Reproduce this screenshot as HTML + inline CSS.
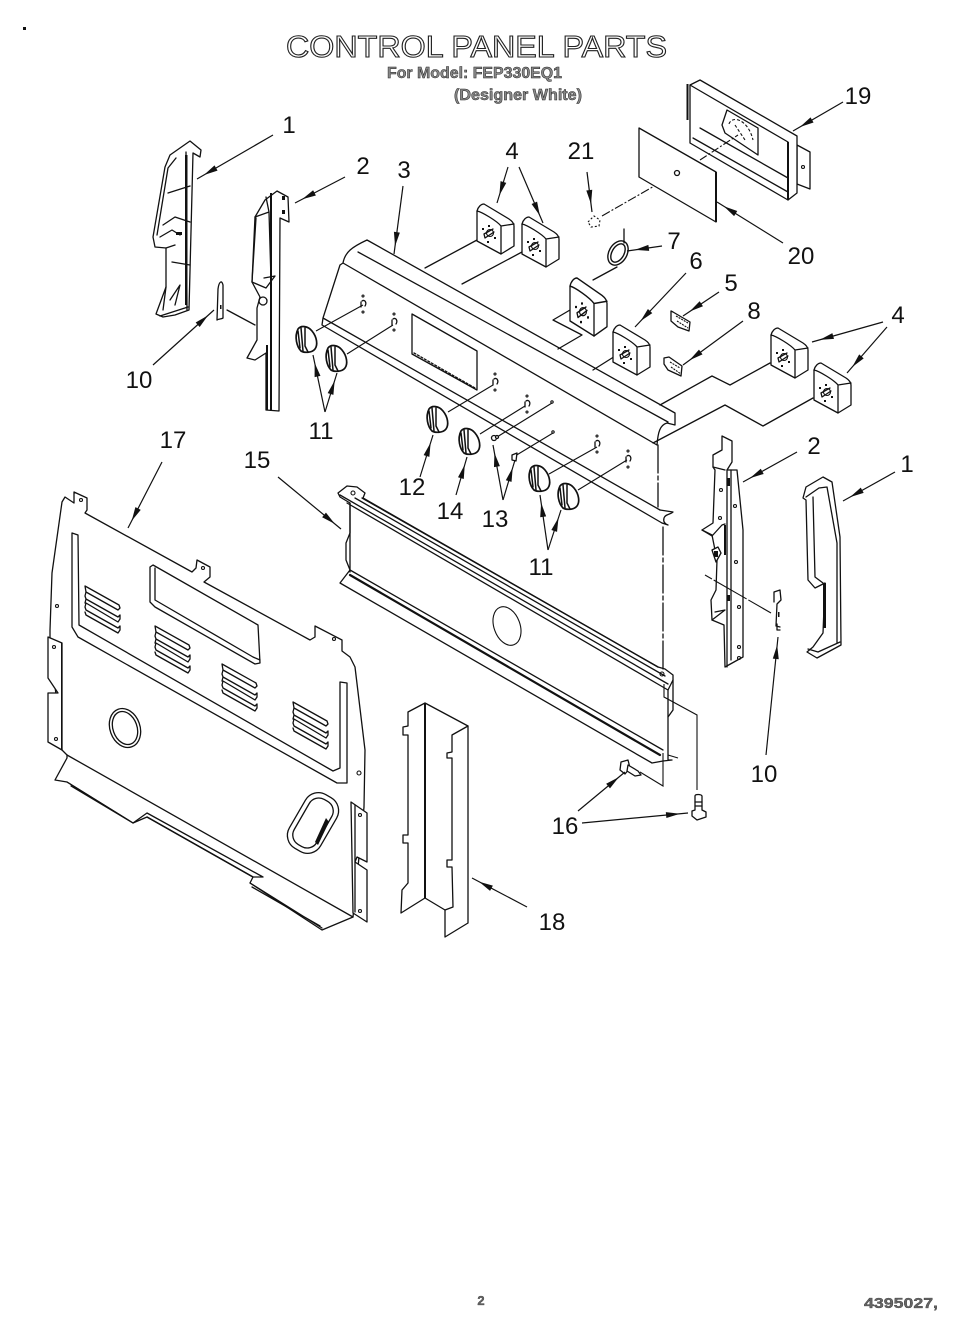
<!DOCTYPE html>
<html><head><meta charset="utf-8"><title>Control Panel Parts</title>
<style>html,body{margin:0;padding:0;background:#fff}svg{display:block}
text{font-family:"Liberation Sans",sans-serif;fill:#111}
.n{font-size:24px;text-anchor:middle}
.l{fill:none;stroke:#111;stroke-width:1.3;stroke-linejoin:round;stroke-linecap:round}
.w{fill:#fff;stroke:#111;stroke-width:1.3;stroke-linejoin:round}
.a{fill:none;stroke:#111;stroke-width:1.2;marker-end:url(#ah)}
.t{fill:none;stroke:#111;stroke-width:1.1}
.d{fill:#111;stroke:none}
</style></head><body>
<svg width="965" height="1333" viewBox="0 0 965 1333" xmlns="http://www.w3.org/2000/svg">
<defs>
<marker id="ah" markerUnits="userSpaceOnUse" markerWidth="16" markerHeight="8" refX="22" refY="3" orient="auto" overflow="visible"><path d="M0 0 L14 3 L0 6 Z" fill="#111"/></marker>
<symbol id="knob" overflow="visible" viewBox="0 0 24 28" width="24" height="28"><path class="w" style="stroke-width:1.7" d="M3 3 C6 -1 13 0 17 5 C22 11 23 19 20 23 C17 27 9 27 6 25 C2 21 -1 11 3 3Z"/><path class="l" style="stroke-width:1.5" d="M3 5 L5 22 M6 2 L8 25 M10 2 L10 20 L13 26"/></symbol>
<symbol id="box" overflow="visible" viewBox="0 0 37 50" width="37" height="50"><path class="w" d="M0 7 C1 3 4 0 7 0 L32 15 C35 17 37 19 37 22 V42 L24 50 L0 37Z"/><path class="l" d="M0 7 C5 8 20 17 24 22 V50 M24 22 L37 20"/><path class="l" d="M7 30 L16 25 M8 34 L17 28 M7 30 L8 34"/><circle class="t" cx="13" cy="29" r="3.5"/><path class="d" d="M11 21 h2 v2 h-2z M17 33 h2 v2 h-2z M5 24 h2 v2 h-2z M10 37 h2 v2 h-2z"/></symbol>
<symbol id="vent" overflow="visible" viewBox="0 0 36 50" width="36" height="50"><g class="l"><path d="M0 0 L34 19 L35 22 L33 24 L1 6Z"/><path d="M1 6 L0 10 L1 13 L33 31 L35 29 L35 33 L33 36 L1 17 L0 21 L1 24 L33 42 L35 40 L35 44 L33 47 L1 29 L0 26 M1 13 L0 17"/></g></symbol>
<symbol id="hole" overflow="visible" viewBox="0 0 10 22" width="10" height="22"><path class="l" d="M4 7 C7 5 9 9 7 12 M3 8 V13"/><circle class="t" cx="5" cy="2" r="1"/><circle class="t" cx="5" cy="18" r="1"/></symbol>
</defs>
<rect width="965" height="1333" fill="#fff"/>
<rect x="23" y="27" width="3" height="3" fill="#111"/>

<!-- Titles -->
<text x="286" y="57" font-size="31" textLength="381" lengthAdjust="spacingAndGlyphs" style="fill:#fff;stroke:#222;stroke-width:1.1">CONTROL PANEL PARTS</text>
<text x="387" y="78" font-size="16" font-weight="bold" textLength="175" lengthAdjust="spacingAndGlyphs" style="fill:#888;stroke:#222;stroke-width:.5">For Model: FEP330EQ1</text>
<text x="454" y="100" font-size="16" font-weight="bold" textLength="128" lengthAdjust="spacingAndGlyphs" style="fill:#888;stroke:#222;stroke-width:.5">(Designer White)</text>
<text x="481" y="1305" font-size="13" text-anchor="middle" font-weight="bold" style="fill:#666;stroke:#222;stroke-width:.3">2</text>
<text x="864" y="1308" font-size="15" font-weight="bold" textLength="74" lengthAdjust="spacingAndGlyphs" style="fill:#666;stroke:#222;stroke-width:.3">4395027,</text>

<!-- Part 1 left -->
<g>
<path class="w" d="M155 247 L153 237 L165 167 L170 155 L190 141 L201 150 L200 157 L193 153 L189 310 L175 315 L163 317 L156 314 L166 287 L166 248Z"/>
<path class="l" d="M157 235 L168 168 L176 158 M186 152 L187 310 M168 193 L190 186 M163 225 L175 217 L190 222 M160 237 L172 230 L180 235 M166 248 L175 245 M172 262 L190 265 M170 300 L180 285 L175 305 M166 287 L163 310 M160 316 L188 307"/>
<path class="d" d="M185 155 h2.5 v150 h-2.5z M176 232 h6 v3 h-6z"/>
</g>
<!-- Part 2 left -->
<g>
<path class="w" d="M255 217 L265 200 L277 191 L288 197 L289 222 L280 218 L279 411 L266 410 L266 353 L255 360 L247 358 L257 340 L257 308 L260 297 L252 282 Z"/>
<path class="l" d="M255 217 L269 212 L271 280 M266 197 L269 212 M252 282 L266 288 L275 276 L264 278 M256 218 L252 282"/>
<path class="d" d="M270 193 h2 v218 h-2z M266 345 h2 v65 h-2z M282 196 h3 v4 h-3z M282 210 h3 v4 h-3z"/>
<circle class="l" cx="263" cy="301" r="4"/>
<path class="l" d="M227 310 L255 325"/>
</g>
<!-- Part 10 left -->
<path class="l" d="M217 320 L218 289 C219 281 222 280 223 285 L223 318 C222 319 218 319 217 320Z"/>
<path class="d" d="M220 305 h1.5 v4 h-1.5z"/>

<!-- Control panel part 3 -->
<g>
<path d="M340 265 L343 263 C345 252 352 247 367 240 L675 413 L675 425 L673 512 L668 525 L662 523 L322 325 L323 318Z" fill="#fff"/>
<path class="l" d="M323 318 L340 265 L343 263 C345 252 352 247 367 240 L675 413 L675 425 L667 423 M358 252 L668 422 M343 263 L657 445 M323 318 L660 510 M322 325 L662 523 M323 318 L322 325 M667 423 C660 425 658 432 657 445"/>
<path class="l" d="M660 510 L673 512 C672 514 665 514 664 518 C663 522 665 524 668 525 L662 523"/>
<path class="w" d="M412 314 L477 351 V390 L412 354Z"/>
<path class="l" stroke-dasharray="2 2" d="M414 353 L475 388"/>
</g>
<path class="l" d="M425 268 L477 240 M462 284 L522 252 M558 349 L582 335 L553 320 L570 310 M593 280 L617 267 M593 370 L620 353 M660 405 L712 376 L730 385 L770 363 M653 443 L725 405 L763 426 L813 398"/>
<!-- holes -->
<use href="#hole" x="358" y="294"/><use href="#hole" x="389" y="312"/><use href="#hole" x="490" y="372"/><use href="#hole" x="522" y="394"/><use href="#hole" x="592" y="434"/><use href="#hole" x="623" y="449"/>
<!-- knob lines -->
<path class="t" d="M316 331 L363 305 M347 354 L393 325 M448 412 L493 385 M480 434 L525 406 M549 474 L597 447 M578 490 L627 460 M497 437 L552 403 M515 456 L553 433"/>
<use href="#knob" x="295" y="326"/><use href="#knob" x="325" y="345"/><use href="#knob" x="426" y="406"/><use href="#knob" x="458" y="428"/><use href="#knob" x="528" y="465"/><use href="#knob" x="557" y="483"/>
<circle class="w" cx="494" cy="438" r="2.5"/><circle class="w" cx="497" cy="437" r="1.5"/>
<path class="w" d="M512 455 L517 453 L516 461 L512 460Z"/>
<circle class="t" cx="552" cy="402" r="1.2"/><circle class="t" cx="553" cy="432" r="1.2"/>

<!-- Boxes -->
<use href="#box" x="477" y="204"/>
<use href="#box" x="522" y="217"/>
<svg x="570" y="278" width="37" height="58" viewBox="0 0 37 50" preserveAspectRatio="none" overflow="visible"><use href="#box"/></svg>
<use href="#box" x="613" y="325"/>
<use href="#box" x="771" y="328"/>
<use href="#box" x="814" y="363"/>
<!-- Ring 7 -->
<g fill="none" stroke="#111"><ellipse cx="618" cy="253" rx="9" ry="13" transform="rotate(30 618 253)" stroke-width="1.4"/><ellipse cx="618" cy="253" rx="6" ry="10" transform="rotate(30 618 253)" stroke-width="1.4"/></g>
<path class="l" d="M624 229 V243"/>
<!-- 21 -->
<path class="t" stroke-dasharray="2 2" d="M588 222 L594 216 L600 220 L599 226 L591 227Z"/>
<path class="t" stroke-dasharray="9 2 2 2" d="M602 216 L677 173"/>
<!-- 20 -->
<path class="w" d="M639 128 L716 172 V222 L639 177Z"/><path class="d" d="M715 172 h2 v50 h-2z"/>
<circle class="w" cx="677" cy="173" r="2.5"/>
<!-- 19 -->
<path class="w" d="M797 145 L810 152 V189 L797 184Z"/><circle class="t" cx="803" cy="167" r="1.5"/>
<path class="w" d="M690 85 L700 80 L797 136 V193 L788 200 L690 143Z"/>
<path class="l" d="M690 85 L788 142 V200 M700 128 L788 178 M693 138 L788 192"/>
<path class="d" d="M686.5 84 h2 v36 h-2z M787 142 h2 v58 h-2z"/>
<path class="w" d="M725 133 L722 125 L727 110 L758 128 V155Z"/>
<path class="t" stroke-dasharray="3 2" d="M729 124 C732 115 748 119 753 140 M735 125 L745 140"/>
<path class="t" stroke-dasharray="8 2 2 2" d="M700 160 L738 135"/>
<!-- 5 & 8 clips -->
<path class="w" d="M671 311 L673 312 L690 322 L689 331 L678 327 L671 321Z"/><path class="t" stroke-dasharray="2 1" d="M676 316 L688 323 M677 321 L688 328"/>
<path class="w" d="M664 358 L669 357 L682 366 L681 376 L668 370 L664 364Z"/><path class="t" stroke-dasharray="2 1" d="M670 362 L680 368 M671 367 L681 374"/>

<!-- Part 15 -->
<g>
<path class="w" d="M338 493 L347 486 L357 487 L365 493 L363 498 L658 667 L665 669 L673 675 L673 710 L668 717 L668 760 L672 760 L663 761 L652 763 L340 583 L350 570 L346 560 L346 543 L350 533 L350 503 L340 497Z"/>
<path class="l" d="M355 498 L665 676 M340 495 L668 684 M347 503 L668 690 M362 498 L658 667 M350 503 L350 572"/>
<path class="l" d="M350 570 L663 750" /><path class="l" style="stroke-width:2.2" d="M350 575 L660 755"/>
<path class="l" d="M668 690 L673 680 M668 717 L668 690"/>
<circle class="t" cx="353" cy="493" r="2"/><circle class="t" cx="662" cy="674" r="2"/>
<ellipse class="t" cx="507" cy="626" rx="13" ry="20" transform="rotate(-20 507 626)"/>
</g>
<path class="l" stroke-dasharray="28 3 4 3" d="M658 445 V507 M663 527 V670"/>
<path class="t" d="M664 684 V697 L697 715 V790 M663 753 V786 L640 772 M668 755 L678 758"/>
<!-- 16 screws -->
<path class="w" d="M621 762 L628 760 L630 768 L625 774 L620 770Z"/><path class="w" d="M628 765 L638 771 L641 775 L635 776 L627 771Z"/>
<path class="w" d="M695 796 C695 794 701 794 702 796 L702 810 L706 812 L706 817 L697 820 L692 816 L692 811 L695 810Z"/><path class="l" d="M695 802 H702 M695 806 H702"/>

<!-- Part 17 -->
<g>
<path class="w" d="M50 630 L52 573 L62 502 L65 497 L74 503 L74 492 L87 498 L87 510 L85 513 L192 572 L196 568 L197 560 L210 567 L210 577 L204 582 L310 640 L315 637 L315 626 L342 640 L342 651 L350 657 L355 667 L365 750 L364 807 L353 917 L322 930 L250 883 L253 877 L147 817 L133 823 L67 782 L55 780 L67 758 L67 755 L62 750 L50 640Z"/>
<path class="w" d="M48 637 L62 643 V750 L48 742 V693 L58 693 L48 678Z"/>
<path class="d" d="M61 643 h1.5 v107 h-1.5z"/>
<path class="w" d="M351 802 L367 813 V862 L357 857 L355 862 L367 870 V922 L353 913Z"/><path class="l" d="M355 805 V912"/>
<path class="l" d="M67 755 L353 917 M147 813 L263 877 M67 782 L133 823 L147 813 M147 817 L253 877 M71 786 L133 823 M253 877 L263 877 M250 883 L322 928 M252 887 L320 926"/>
<path class="l" d="M72 533 V627 L78 637 L337 783 H347 V683 L340 682 V768 L333 771 L79 625 L78 535 Z"/>
<path class="l" d="M150 567 L153 565 L258 625 L260 663 L255 664 L155 607 L150 602Z M155 568 V600 L253 657 L260 660"/>
<use href="#vent" x="85" y="586"/><use href="#vent" x="155" y="626"/><use href="#vent" x="222" y="664"/><use href="#vent" x="293" y="702"/>
<g fill="none" stroke="#111" stroke-width="1.3">
<ellipse cx="125" cy="728" rx="15" ry="20" transform="rotate(-20 125 728)"/><ellipse cx="125" cy="728" rx="12" ry="17" transform="rotate(-20 125 728)"/>
<rect x="-18" y="-31" width="36" height="62" rx="15" transform="translate(313 823) rotate(30)"/>
<rect x="-13" y="-26" width="26" height="52" rx="11" transform="translate(313 823) rotate(30)"/>
</g>
<path class="d" d="M326 818 L315 842 L318 845 L329 822Z"/>
<g class="t"><circle cx="57" cy="606" r="1.5"/><circle cx="359" cy="773" r="2"/><circle cx="54" cy="647" r="1.5"/><circle cx="56" cy="739" r="1.5"/><circle cx="360" cy="815" r="1.5"/><circle cx="360" cy="911" r="1.5"/><circle cx="81" cy="500" r="1.5"/><circle cx="203" cy="568" r="1.5"/><circle cx="334" cy="639" r="1.5"/></g>
</g>

<!-- Part 18 -->
<g>
<path class="w" d="M408 712 L425 703 L468 726 V923 L445 937 V910 L425 898 L401 913 L402 890 L408 883 V843 L403 843 V835 L408 835 V735 L403 735 V727 L408 726Z"/>
<path class="l" d="M468 726 L452 735 V752 L447 753 V758 L452 758 V860 L447 860 V867 L452 867 L453 907 L445 910"/>
<path class="d" d="M424 703 h2 v195 h-2z"/>
</g>

<!-- Part 2 right -->
<g>
<path class="w" d="M722 436 L732 441 V462 L727 470 L737 470 L743 530 L743 657 L725 667 L724 625 L712 620 L711 600 L716 590 L717 560 L712 535 L702 530 L713 523 L715 470 L713 467 L713 455 L722 450Z"/>
<path class="l" d="M727 470 V667 M731 470 V660 M713 467 L725 470 M702 530 L712 536 L722 525 L725 524 M712 620 L725 610 L715 612"/>
<path class="d" d="M724 525 h2 v30 h-2z M727 478 h3 v8 h-3z M727 595 h3 v6 h-3z"/>
<path class="w" d="M712 550 L718 547 L721 553 L716 562Z"/>
<path class="d" d="M714 551 h4 v6 h-4z"/>
<g class="t"><circle cx="721" cy="490" r="1.5"/><circle cx="735" cy="506" r="1.5"/><circle cx="736" cy="562" r="1.5"/><circle cx="739" cy="607" r="1.5"/><circle cx="739" cy="647" r="1.5"/><circle cx="739" cy="658" r="1.5"/><circle cx="720" cy="518" r="1.5"/></g>
</g>
<path class="t" stroke-dasharray="8 2 30 0" d="M705 575 L771 613"/>
<!-- Part 10 right -->
<path class="l" d="M774 602 L774 592 L780 590 L781 600 L777 604 L776 626 L780 627 M777 624 V630 H780"/>
<path class="d" d="M778 612 h1.5 v5 h-1.5z"/>
<!-- Part 1 right -->
<g>
<path class="w" d="M803 498 L806 487 L823 477 L832 482 L840 537 L841 645 L817 658 L807 652 L813 647 L823 633 L825 583 L815 588 L808 580 L806 500Z"/>
<path class="l" d="M813 497 L815 577 L823 583 M827 487 L837 543 V643 M806 497 L819 488 L827 487 M808 649 L818 652 L840 642"/>
<path class="d" d="M823 583 h3 v45 h-3z"/>
</g>

<!-- Arrows -->
<line class="a" x1="273" y1="135" x2="197" y2="179"/>
<line class="a" x1="345" y1="177" x2="295" y2="203"/>
<line class="a" x1="403" y1="186" x2="394" y2="254"/>
<line class="a" x1="153" y1="365" x2="214" y2="310"/>
<line class="a" x1="325" y1="412" x2="313" y2="355"/>
<line class="a" x1="325" y1="412" x2="337" y2="373"/>
<line class="a" x1="508" y1="167" x2="497" y2="203"/>
<line class="a" x1="519" y1="167" x2="543" y2="223"/>
<line class="a" x1="587" y1="172" x2="592" y2="212"/>
<line class="a" x1="843" y1="102" x2="793" y2="131"/>
<line class="a" x1="783" y1="243" x2="717" y2="202"/>
<line class="a" x1="662" y1="246" x2="627" y2="251"/>
<line class="a" x1="686" y1="273" x2="635" y2="327"/>
<line class="a" x1="719" y1="292" x2="683" y2="316"/>
<line class="a" x1="743" y1="321" x2="683" y2="365"/>
<line class="a" x1="883" y1="322" x2="812" y2="342"/>
<line class="a" x1="887" y1="327" x2="847" y2="373"/>
<line class="a" x1="797" y1="452" x2="743" y2="482"/>
<line class="a" x1="895" y1="472" x2="843" y2="501"/>
<line class="a" x1="766" y1="755" x2="778" y2="637"/>
<line class="a" x1="420" y1="477" x2="433" y2="435"/>
<line class="a" x1="456" y1="495" x2="467" y2="457"/>
<line class="a" x1="503" y1="500" x2="493" y2="445"/>
<line class="a" x1="503" y1="500" x2="515" y2="460"/>
<line class="a" x1="548" y1="550" x2="540" y2="495"/>
<line class="a" x1="548" y1="550" x2="561" y2="510"/>
<line class="a" x1="578" y1="811" x2="625" y2="772"/>
<line class="a" x1="582" y1="823" x2="688" y2="813"/>
<line class="a" x1="278" y1="477" x2="341" y2="529"/>
<line class="a" x1="162" y1="462" x2="128" y2="528"/>
<line class="a" x1="527" y1="907" x2="472" y2="878"/>

<!-- Labels -->
<text class="n" x="289" y="133">1</text>
<text class="n" x="363" y="174">2</text>
<text class="n" x="404" y="178">3</text>
<text class="n" x="512" y="159">4</text>
<text class="n" x="581" y="159">21</text>
<text class="n" x="858" y="104">19</text>
<text class="n" x="801" y="264">20</text>
<text class="n" x="674" y="249">7</text>
<text class="n" x="696" y="269">6</text>
<text class="n" x="731" y="291">5</text>
<text class="n" x="754" y="319">8</text>
<text class="n" x="898" y="323">4</text>
<text class="n" x="814" y="454">2</text>
<text class="n" x="907" y="472">1</text>
<text class="n" x="139" y="388">10</text>
<text class="n" x="321" y="439">11</text>
<text class="n" x="412" y="495">12</text>
<text class="n" x="450" y="519">14</text>
<text class="n" x="495" y="527">13</text>
<text class="n" x="541" y="575">11</text>
<text class="n" x="173" y="448">17</text>
<text class="n" x="257" y="468">15</text>
<text class="n" x="565" y="834">16</text>
<text class="n" x="552" y="930">18</text>
<text class="n" x="764" y="782">10</text>
</svg>
</body></html>
